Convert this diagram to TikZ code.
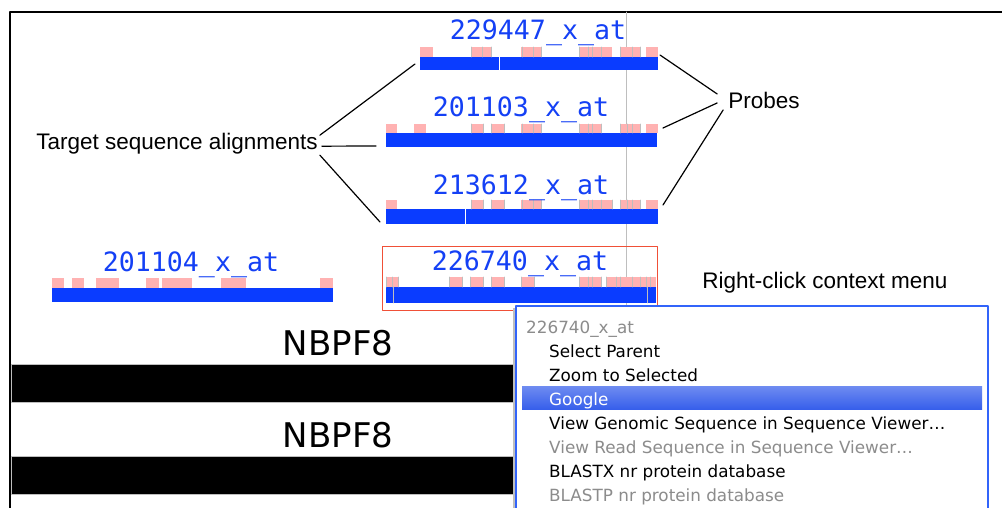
\documentclass[tikz,border=0pt]{standalone}
\usepackage{fontspec}
\setmainfont{Liberation Sans}
\newfontfamily\monofont{DejaVu Sans Mono}
\newfontfamily\uifont{DejaVu Sans}
\usetikzlibrary{positioning}
\definecolor{seqblue}{RGB}{10,60,255}
\definecolor{probepink}{RGB}{255,178,178}
\definecolor{labelblue}{RGB}{20,64,245}
\definecolor{selred}{RGB}{240,80,55}
\definecolor{menublue}{RGB}{50,100,250}
\definecolor{hilite}{RGB}{55,95,235}
\definecolor{greyline}{RGB}{190,190,190}
\definecolor{menugrey}{RGB}{140,140,140}
\tikzset{
  bar/.style={fill=seqblue},
  probe/.style={fill=probepink},
  tick/.style={draw=greyline, line width=0.8},
  tracklabel/.style={anchor=base, inner sep=0, text=labelblue, font=\monofont\fontsize{26.6}{26.6}\selectfont},
  callout/.style={anchor=base, inner sep=2, font=\fontsize{22.5}{22.5}\selectfont},
  pointer/.style={draw=black, line width=1.2},
  menuitem/.style={anchor=base west, inner sep=0, font=\uifont\fontsize{16.8}{16.8}\selectfont},
  genelabel/.style={anchor=base, inner sep=0, font=\uifont\fontsize{34}{34}\selectfont},
}
\begin{document}
\begin{tikzpicture}[x=1pt, y=-1pt, line join=round, line cap=round]
	\useasboundingbox (0,0) rectangle (1002,508);
	\clip (0,0) rectangle (1002,508);
	% panel frame and cursor line
	\draw[line width=1.5] (10,510) -- (10,12) -- (1004,12);
	\draw[greyline, line width=0.8] (626,12) -- (626,306);
	% 229447_x_at
	\fill[bar] (420,57) rectangle (658,70);
	\foreach \a/\b in {420/433, 471/492, 521/541, 579/612, 620/641, 646/658}
	\fill[probe] (\a,47) rectangle (\b,57);
	\foreach \x in {471, 482, 491, 522, 533, 541, 579, 588, 592, 601, 620, 632, 640}
	\draw[tick] (\x,47) -- (\x,57);
	\draw[white, line width=0.8] (499,57) -- (499,70);
	\node[tracklabel] (p229447) at (538,40) {229447\_x\_at};
	% 201103_x_at
	\fill[bar] (386,133) rectangle (657,147);
	\foreach \a/\b in {386/397, 414/426, 471/483, 491/504, 521/541, 579/601, 620/640, 646/658}
	\fill[probe] (\a,124) rectangle (\b,133);
	\foreach \x in {471, 483, 491, 504, 522, 533, 541, 579, 588, 592, 601, 620, 627, 632, 640}
	\draw[tick] (\x,124) -- (\x,133);
	\node[tracklabel] (p201103) at (521,117) {201103\_x\_at};
	% 213612_x_at
	\fill[bar] (386,209) rectangle (658,224);
	\foreach \a/\b in {386/397, 471/483, 491/504, 521/541, 579/612, 620/640, 646/658}
	\fill[probe] (\a,200) rectangle (\b,209);
	\foreach \x in {471, 483, 491, 504, 522, 533, 541, 579, 588, 592, 601, 612, 620, 627, 632, 640}
	\draw[tick] (\x,200) -- (\x,209);
	\draw[white, line width=0.8] (465,209) -- (465,224);
	\node[tracklabel] (p213612) at (521,194) {213612\_x\_at};
	% 201104_x_at
	\fill[bar] (52,288) rectangle (333,302);
	\foreach \a/\b in {52/64, 72/84, 96/119, 146/159, 162/192, 221/246, 320/333}
	\fill[probe] (\a,278) rectangle (\b,288);
	\node[tracklabel] (p201104) at (191,271) {201104\_x\_at};
	% 226740_x_at, selected
	\draw[selred, line width=1] (382,246) rectangle (657,310);
	\fill[bar] (386,287) rectangle (656,303);
	\foreach \a/\b in {386/398, 449/462, 470/483, 491/504, 521/534, 579/601, 606/656}
	\fill[probe] (\a,277) rectangle (\b,287);
	\foreach \x in {386, 392, 398, 449, 462, 470, 483, 491, 504, 521, 534, 579, 588, 592, 601, 606, 616, 620, 632, 640, 646, 650}
	\draw[tick] (\x,277) -- (\x,287);
	\foreach \x in {393, 647}
	\draw[tick] (\x,287) -- (\x,303);
	\node[tracklabel] (p226740) at (520,270) {226740\_x\_at};
	% gene track
	\foreach \y in {364, 456}
	\filldraw[fill=black, draw=greyline, line width=0.8] (11,\y) rectangle (520,\y+38);
	\node[genelabel] (gene1) at (338,355) {NBPF8};
	\node[genelabel] (gene2) at (338,447) {NBPF8};
	% callouts
	\node[callout] (tsa) at (177,150) {Target sequence alignments};
	\node[callout] (probes) at (764,109) {Probes};
	\node[callout] (rclick) at (825,288) {Right-click context menu};
	\coordinate (t1left) at (415,64);
	\coordinate (t2left) at (376,146);
	\coordinate (t3left) at (380,222);
	\coordinate (t1right) at (660,55);
	\coordinate (t2right) at (663,128);
	\coordinate (t3right) at (663,205);
	\draw[pointer] ([yshift=9]tsa.east) -- (t1left);
	\draw[pointer] ([xshift=2, yshift=-2]tsa.east) -- (t2left);
	\draw[pointer] ([yshift=-11]tsa.east) -- (t3left);
	\draw[pointer] ([xshift=-9, yshift=7]probes.west) -- (t1right);
	\draw[pointer] ([xshift=-9, yshift=-2]probes.west) -- (t2right);
	\draw[pointer] ([xshift=-3, yshift=-9]probes.west) -- (t3right);
	% context menu
	\fill[black!25] (513,308) rectangle (516,520);
	\filldraw[fill=white, draw=menublue, line width=1.2] (516,306) rectangle (988,520);
	\shade[top color=hilite!72!white, bottom color=hilite] (522,386) rectangle (982,409);
	\node[menuitem, text=menugrey] (mhead) at (526,333) {226740\_x\_at};
	\node[menuitem] (m1) at (549,357) {Select Parent};
	\node[menuitem] (m2) at (549,381) {Zoom to Selected};
	\node[menuitem, text=white] (m3) at (549,405) {Google};
	\node[menuitem] (m4) at (549,429) {View Genomic Sequence in Sequence Viewer…};
	\node[menuitem, text=menugrey] (m5) at (549,453) {View Read Sequence in Sequence Viewer…};
	\node[menuitem] (m6) at (549,477) {BLASTX nr protein database};
	\node[menuitem, text=menugrey] (m7) at (549,501) {BLASTP nr protein database};
\end{tikzpicture}
\end{document}
